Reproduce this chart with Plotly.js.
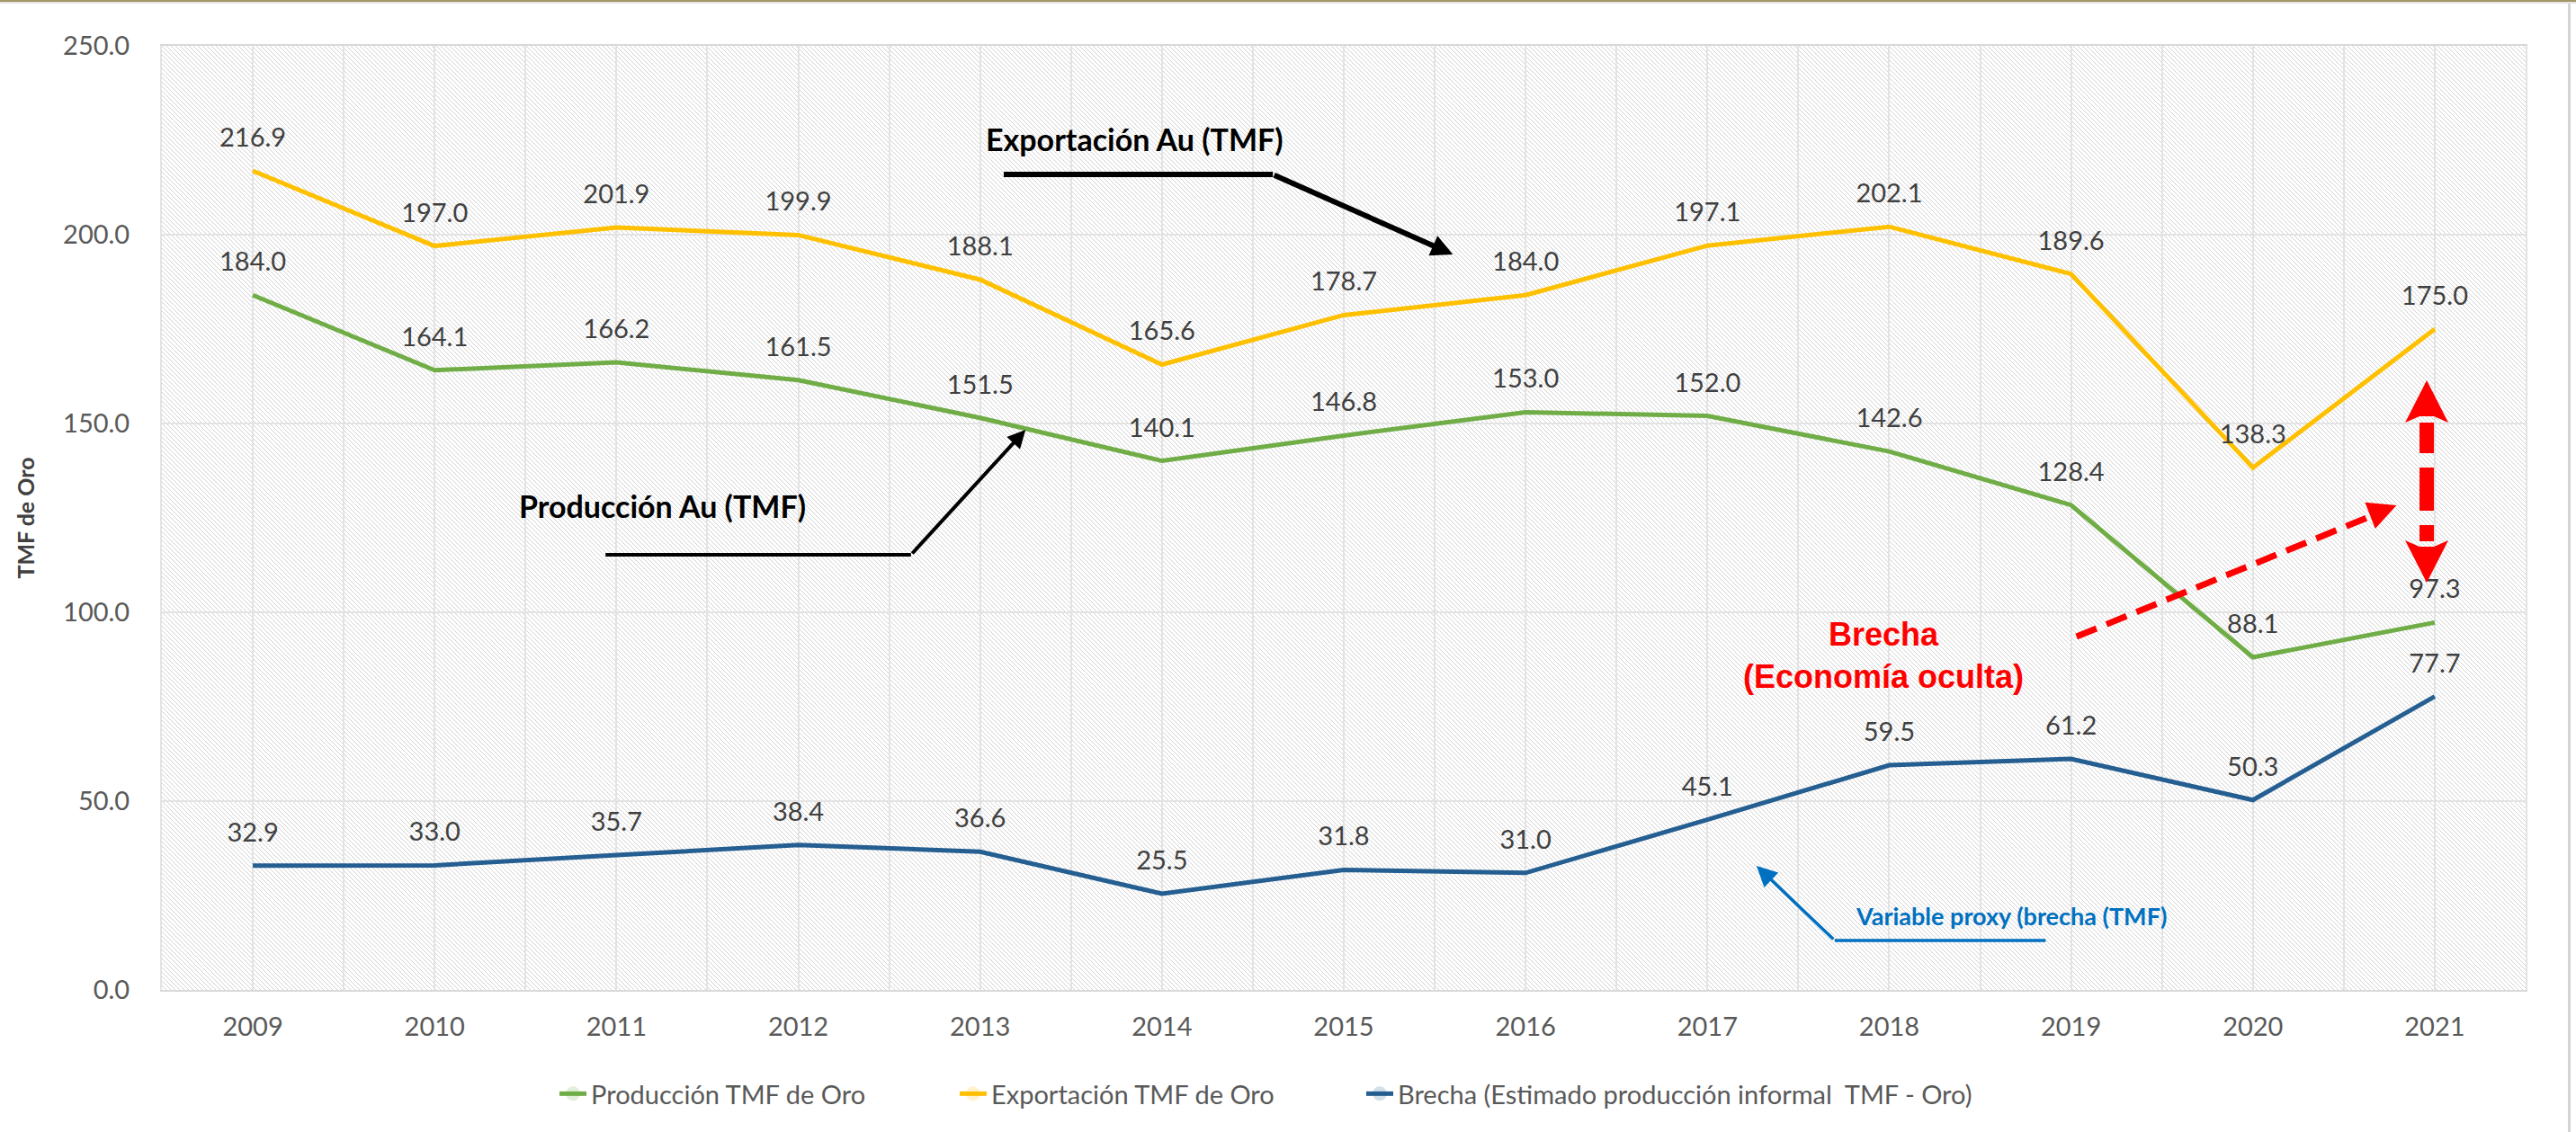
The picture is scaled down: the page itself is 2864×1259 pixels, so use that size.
<!DOCTYPE html>
<html><head><meta charset="utf-8">
<script src="https://cdn.plot.ly/plotly-3.0.1.min.js"></script>
<style>
html,body{margin:0;padding:0;background:#fff;}
#wrap{position:relative;width:2864px;height:1259px;background:#fff;overflow:hidden;}
#hatch{position:absolute;left:180px;top:51px;width:2628px;height:1050px;
 background-image:url("data:image/svg+xml;utf8,<svg xmlns='http://www.w3.org/2000/svg' width='5' height='5'><path d='M-1,-1 L6,6 M-1,4 L1,6 M4,-1 L6,1' stroke='%23d2d2d2' stroke-width='1'/></svg>");
 background-repeat:repeat;}
#topline{position:absolute;left:0;top:0;width:2864px;height:2px;background:#a39666;}
#topline2{position:absolute;left:0;top:2px;width:2864px;height:2px;background:#e4e4e4;}
#rightline{position:absolute;left:2855px;top:4px;width:3px;height:1255px;background:#d4d4d4;}
#chart{position:absolute;left:0;top:0;width:2864px;height:1259px;}
</style></head><body>
<div id="wrap"><div id="hatch"></div><div id="topline"></div><div id="topline2"></div><div id="rightline"></div><div id="chart"></div></div>
<script>
const years = [2009, 2010, 2011, 2012, 2013, 2014, 2015, 2016, 2017, 2018, 2019, 2020, 2021];
const produccion = [184.0, 164.1, 166.2, 161.5, 151.5, 140.1, 146.8, 153.0, 152.0, 142.6, 128.4, 88.1, 97.3];
const exportacion = [216.9, 197.0, 201.9, 199.9, 188.1, 165.6, 178.7, 184.0, 197.1, 202.1, 189.6, 138.3, 175.0];
const brecha = [32.9, 33.0, 35.7, 38.4, 36.6, 25.5, 31.8, 31.0, 45.1, 59.5, 61.2, 50.3, 77.7];
const seriesNames = ['Producción TMF de Oro', 'Exportación TMF de Oro', 'Brecha (Estimado producción informal  TMF - Oro)'];
const seriesColors = ['#70ad47', '#ffc000', '#255e91'];
const legendIds = ['legend', 'legend2', 'legend3'];

const FONT = 'Lato, "Open Sans", sans-serif';
const labelFont = {family: FONT, size: 29, color: '#404040'};

function mk(y, i) {
  return {
    x: years, y: y, name: seriesNames[i], type: 'scatter', mode: 'lines+markers+text',
    legend: legendIds[i],
    line: {color: seriesColors[i], width: 5},
    marker: {size: 30, opacity: 0, color: seriesColors[i]},
    texttemplate: '%{y:.1f}', textposition: 'top center', textfont: labelFont,
    cliponaxis: false, hoverinfo: 'skip'
  };
}
const data = [mk(produccion, 0), mk(exportacion, 1), mk(brecha, 2)];

const legendFont = {family: FONT, size: 29, color: '#595959'};
function lg(x) {
  return {orientation: 'h', x: x, xanchor: 'left', y: -0.11, yanchor: 'middle',
          font: legendFont, bgcolor: 'rgba(0,0,0,0)', itemwidth: 30};
}

const grid = '#e3e3e3';
const layout = {
  width: 2864, height: 1259,
  margin: {l: 180, r: 56, t: 51, b: 158},
  paper_bgcolor: 'rgba(0,0,0,0)', plot_bgcolor: 'rgba(0,0,0,0)',
  showlegend: true,
  xaxis: {
    type: 'linear', range: [2008.5, 2021.5], tickmode: 'linear', tick0: 2009, dtick: 1, tickformat: 'd',
    showgrid: true, gridcolor: grid, gridwidth: 2,
    minor: {tickmode: 'linear', tick0: 2008.5, dtick: 1, showgrid: true, gridcolor: grid, gridwidth: 2},
    zeroline: false, showline: true, mirror: true, linecolor: '#d9d9d9', linewidth: 2,
    ticks: '', ticklabelstandoff: 14,
    tickfont: {family: FONT, size: 29, color: '#595959'}
  },
  yaxis: {
    range: [0, 250], tickmode: 'linear', tick0: 0, dtick: 50, tickformat: '.1f',
    showgrid: true, gridcolor: grid, gridwidth: 2,
    zeroline: false, showline: true, mirror: true, linecolor: '#e3e3e3', linewidth: 2,
    ticks: '', ticklabelstandoff: 28,
    tickfont: {family: FONT, size: 29, color: '#595959'},
    automargin: true,
    title: {text: '<b>TMF de Oro</b>', font: {family: FONT, size: 25, color: '#404040'}, standoff: 24}
  },
  legend: lg(0.1663),
  legend2: lg(0.3356),
  legend3: lg(0.5076),
  hovermode: false,
  shapes: [
    {type: 'line', xref: 'x', yref: 'y', x0: 2013.13, x1: 2014.61, y0: 215.95, y1: 215.95, line: {color: '#000000', width: 6}},
    {type: 'line', xref: 'x', yref: 'y', x0: 2010.94, x1: 2012.62, y0: 115.24, y1: 115.24, line: {color: '#000000', width: 4}},
    {type: 'line', xref: 'x', yref: 'y', x0: 2017.70, x1: 2018.86, y0: 13.10, y1: 13.10, line: {color: '#0070c0', width: 3.5}},
    {type: 'line', xref: 'x', yref: 'y', x0: 2019.03, y0: 93.57, x1: 2020.68, y1: 126.07, line: {color: '#ff0000', width: 7, dash: '24px,12px'}},
    {type: 'line', xref: 'x', yref: 'y', x0: 2020.956, x1: 2020.956, y0: 150.24, y1: 118.81, line: {color: '#ff0000', width: 16, dash: '34px,16px,48px,16px'}},
    {type: 'path', xref: 'x', yref: 'y', xsizemode: 'pixel', ysizemode: 'pixel', xanchor: 2020.956, yanchor: 161.43,
     path: 'M0,0 L-24,-47 L-8,-40 L8,-40 L24,-47 Z', fillcolor: '#ff0000', line: {width: 0}},
    {type: 'path', xref: 'x', yref: 'y', xsizemode: 'pixel', ysizemode: 'pixel', xanchor: 2020.956, yanchor: 107.86,
     path: 'M0,0 L-24,47 L-8,40 L8,40 L24,47 Z', fillcolor: '#ff0000', line: {width: 0}}
  ],
  annotations: [
    {text: '<b>Exportación Au (TMF)</b>', x: 2013.85, y: 225.24, xref: 'x', yref: 'y', showarrow: false,
     font: {family: FONT, size: 34, color: '#000000'}},
    {text: '', x: 2015.60, y: 194.76, ax: 2014.61, ay: 215.95, xref: 'x', yref: 'y', axref: 'x', ayref: 'y',
     showarrow: true, arrowhead: 2, arrowsize: 0.8, arrowwidth: 6, arrowcolor: '#000000', standoff: 0, startstandoff: 0},
    {text: '<b>Producción Au (TMF)</b>', x: 2011.255, y: 128.33, xref: 'x', yref: 'y', showarrow: false,
     font: {family: FONT, size: 34, color: '#000000'}},
    {text: '', x: 2013.25, y: 148.33, ax: 2012.62, ay: 115.24, xref: 'x', yref: 'y', axref: 'x', ayref: 'y',
     showarrow: true, arrowhead: 2, arrowsize: 1, arrowwidth: 4, arrowcolor: '#000000', standoff: 0, startstandoff: 0},
    {text: '<b>Variable proxy (brecha (TMF)</b>', x: 2018.67, y: 19.76, xref: 'x', yref: 'y', showarrow: false,
     font: {family: FONT, size: 27, color: '#0070c0'}},
    {text: '', x: 2017.27, y: 32.86, ax: 2017.70, ay: 13.10, xref: 'x', yref: 'y', axref: 'x', ayref: 'y',
     showarrow: true, arrowhead: 2, arrowsize: 1.3, arrowwidth: 3.5, arrowcolor: '#0070c0', standoff: 0, startstandoff: 0},
    {text: '<b>Brecha<br>(Economía oculta)</b>', x: 2017.97, y: 88.57, xref: 'x', yref: 'y', showarrow: false, align: 'center',
     font: {family: '"Liberation Sans Narrow", "Arial Narrow", sans-serif', size: 36, color: '#ff0000'}},
    {text: '', x: 2020.79, y: 128.33, ax: 2020.66, ay: 125.9, xref: 'x', yref: 'y', axref: 'x', ayref: 'y',
     showarrow: true, arrowhead: 2, arrowsize: 0.9, arrowwidth: 7, arrowcolor: '#ff0000', standoff: 0, startstandoff: 0}
  ]
};

Plotly.newPlot('chart', data, layout, {displayModeBar: false, staticPlot: true});
</script>
</body></html>
